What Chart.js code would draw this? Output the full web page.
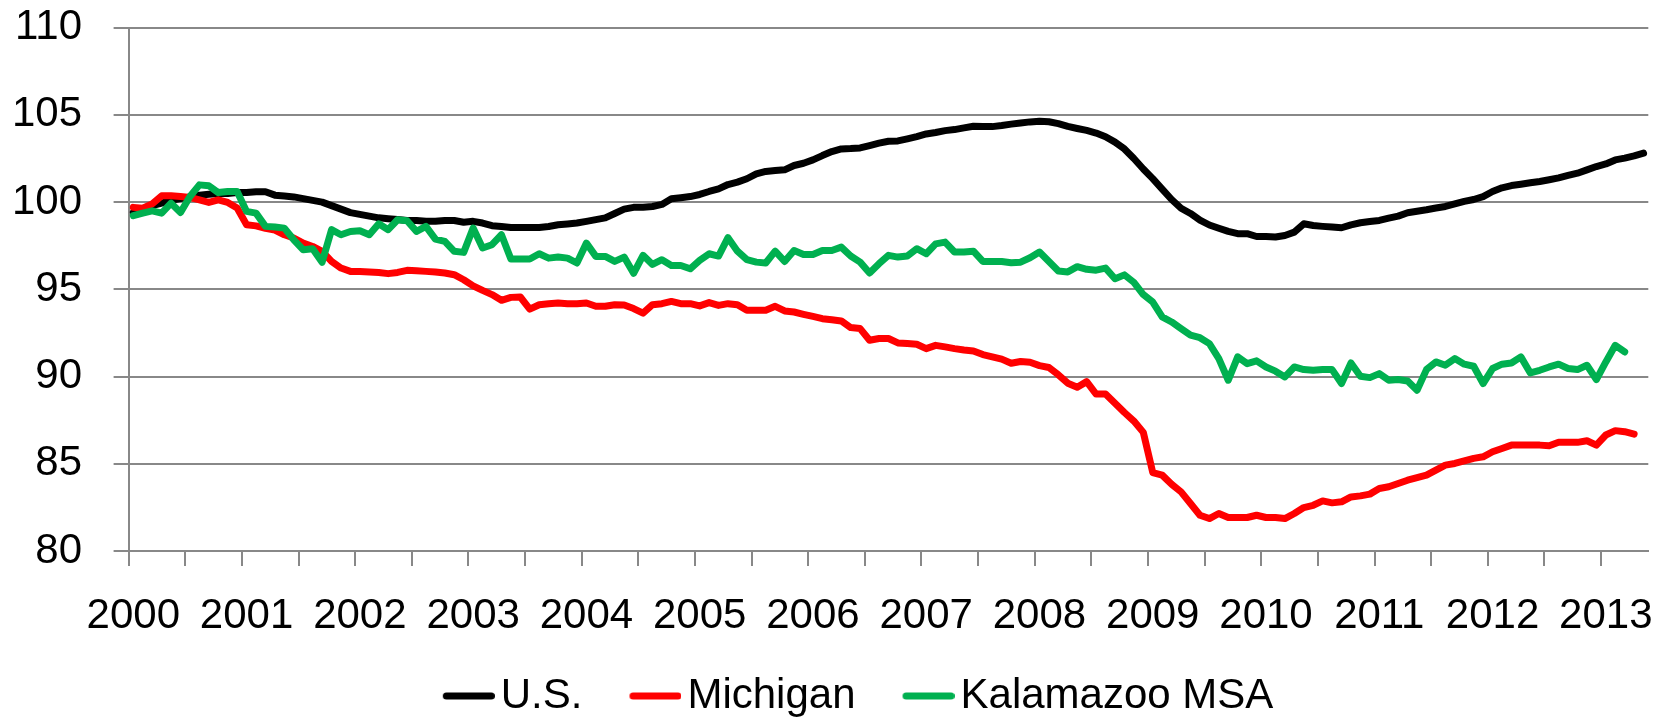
<!DOCTYPE html>
<html>
<head>
<meta charset="utf-8">
<script src="https://cdn.jsdelivr.net/npm/chart.js@4.4.1/dist/chart.umd.min.js"></script>
<style>
html,body{margin:0;padding:0;background:#ffffff;}
#wrap{position:relative;width:1673px;height:717px;}
</style>
</head>
<body>
<div id="wrap"><canvas id="c" width="1673" height="717"></canvas></div>
<script>
// Tick labels (one per year) and monthly categories Jan 2000 .. May 2013
const tickYears = ['2000','2001','2002','2003','2004','2005','2006','2007','2008','2009','2010','2011','2012','2013'];
const monthsInLastYear = 5;
const categories = [];
tickYears.forEach((y, k) => {
  const n = (k === tickYears.length - 1) ? monthsInLastYear : 12;
  for (let m = 1; m <= n; m++) categories.push(y + '-' + String(m).padStart(2, '0'));
});

const seriesNames = ['U.S.', 'Michigan', 'Kalamazoo MSA'];

const usValues = [
  99.4,99.6,99.8,99.95,100.1,100.2,100.3,100.4,100.45,100.5,100.5,100.55,
  100.55,100.6,100.6,100.4,100.35,100.3,100.2,100.1,100.0,99.8,99.6,99.4,
  99.3,99.2,99.1,99.05,99.0,98.95,98.95,98.9,98.9,98.95,98.95,98.85,
  98.9,98.8,98.65,98.6,98.55,98.55,98.55,98.55,98.6,98.7,98.75,98.8,
  98.9,99.0,99.1,99.35,99.6,99.7,99.71,99.75,99.87,100.19,100.25,100.32,
  100.44,100.61,100.76,101.01,101.15,101.34,101.62,101.76,101.81,101.85,102.1,102.23,
  102.42,102.67,102.9,103.05,103.07,103.11,103.24,103.38,103.49,103.51,103.63,103.76,
  103.91,103.99,104.1,104.16,104.26,104.35,104.33,104.33,104.39,104.47,104.54,104.6,
  104.64,104.61,104.5,104.34,104.22,104.11,103.96,103.75,103.44,103.05,102.5,101.9,
  101.35,100.75,100.15,99.65,99.35,98.97,98.69,98.5,98.32,98.19,98.19,98.03,
  98.03,98.0,98.09,98.28,98.76,98.66,98.61,98.57,98.53,98.7,98.82,98.89,
  98.95,99.08,99.2,99.39,99.48,99.56,99.66,99.75,99.9,100.04,100.15,100.32,
  100.61,100.82,100.95,101.03,101.11,101.18,101.28,101.39,101.53,101.66,101.85,102.04,
  102.19,102.42,102.52,102.65,102.81
];

const michiganValues = [
  99.7,99.65,99.9,100.36,100.36,100.32,100.27,100.13,99.98,100.13,99.98,99.66,
  98.7,98.64,98.5,98.4,98.13,97.94,97.65,97.46,97.18,96.6,96.22,96.03,
  96.03,96.0,95.97,95.9,95.97,96.09,96.07,96.03,96.0,95.94,95.84,95.55,
  95.2,94.94,94.7,94.37,94.54,94.56,93.87,94.12,94.18,94.22,94.18,94.18,
  94.22,94.03,94.03,94.12,94.1,93.9,93.64,94.12,94.18,94.31,94.18,94.18,
  94.05,94.24,94.08,94.18,94.12,93.8,93.8,93.8,94.03,93.76,93.7,93.57,
  93.45,93.32,93.26,93.19,92.81,92.75,92.08,92.18,92.18,91.93,91.89,91.85,
  91.6,91.79,91.7,91.6,91.52,91.47,91.26,91.13,91.0,90.76,90.86,90.82,
  90.63,90.52,90.1,89.62,89.39,89.71,89.0,89.0,88.47,87.94,87.45,86.8,
  84.5,84.35,83.83,83.39,82.72,82.05,81.86,82.15,81.92,81.92,81.92,82.05,
  81.92,81.92,81.86,82.15,82.49,82.62,82.87,82.76,82.82,83.1,83.16,83.26,
  83.58,83.68,83.87,84.06,84.21,84.35,84.64,84.92,85.02,85.17,85.31,85.4,
  85.69,85.88,86.07,86.07,86.07,86.07,86.03,86.23,86.23,86.23,86.32,86.07,
  86.65,86.9,86.84,86.7
];

const kalamazooValues = [
  99.22,99.37,99.5,99.37,99.94,99.41,100.32,100.99,100.94,100.55,100.61,100.61,
  99.47,99.37,98.61,98.57,98.51,97.84,97.27,97.33,96.55,98.42,98.13,98.32,
  98.36,98.13,98.76,98.42,98.99,98.93,98.32,98.61,97.88,97.75,97.18,97.12,
  98.51,97.37,97.56,98.13,96.74,96.74,96.74,97.04,96.79,96.85,96.79,96.51,
  97.65,96.89,96.89,96.6,96.85,95.92,96.95,96.43,96.7,96.37,96.37,96.18,
  96.66,97.04,96.91,97.96,97.19,96.7,96.56,96.51,97.19,96.6,97.23,97.0,
  97.0,97.23,97.23,97.42,96.91,96.56,95.94,96.47,96.95,96.85,96.91,97.33,
  97.04,97.61,97.71,97.14,97.14,97.19,96.6,96.6,96.6,96.53,96.56,96.81,
  97.14,96.6,96.05,96.0,96.3,96.15,96.1,96.22,95.61,95.83,95.4,94.7,
  94.27,93.42,93.13,92.75,92.37,92.23,91.89,91.03,89.79,91.13,90.74,90.9,
  90.55,90.31,89.98,90.55,90.4,90.36,90.4,90.4,89.6,90.78,90.02,89.94,
  90.17,89.79,89.83,89.75,89.22,90.4,90.84,90.65,91.03,90.71,90.59,89.6,
  90.46,90.71,90.78,91.13,90.21,90.36,90.55,90.71,90.46,90.4,90.65,89.83,
  90.84,91.79,91.41
];

const seriesColors = ['#000000', '#FF0000', '#00B050'];
const yMin = 80, yMax = 110, yStep = 5;

const FONT = "'Liberation Sans', Arial, sans-serif";
const GRAY = '#888888';
const LINE_W = 7;

// Legend swatch images: a short thick line placed at the right of a wide legend box,
// so it sits close to its label like the original, with the blank part acting as spacing.
const SWATCH_BOX = 68, SWATCH_LEN = 52;
function makeSwatch(color) {
  const c = document.createElement('canvas');
  const W = SWATCH_BOX + 30, H = 12;
  c.width = W; c.height = H;
  const g = c.getContext('2d');
  g.strokeStyle = color;
  g.lineWidth = LINE_W;
  g.lineCap = 'round';
  g.beginPath();
  g.moveTo(W - SWATCH_LEN + LINE_W / 2, H / 2);
  g.lineTo(W - LINE_W / 2, H / 2);
  g.stroke();
  return c;
}
const swatches = seriesColors.map(makeSwatch);

const legendShift = {
  id: 'legendShift',
  afterLayout(chart) {
    const l = chart.legend;
    if (l) { l.left += 18.4; l.right += 18.4; l.top += 10; l.bottom += 10; }
  }
};

const allValues = [usValues, michiganValues, kalamazooValues];
const datasets = seriesNames.map((name, k) => ({
  label: name,
  data: allValues[k],
  borderColor: seriesColors[k],
  backgroundColor: seriesColors[k],
  borderWidth: LINE_W,
  pointRadius: 0,
  pointHoverRadius: 0,
  tension: 0,
  fill: false,
  borderCapStyle: 'round',
  borderJoinStyle: 'round',
  order: 3 - k
}));

new Chart(document.getElementById('c'), {
  type: 'line',
  data: { labels: categories, datasets },
  plugins: [legendShift],
  options: {
    responsive: false,
    animation: false,
    devicePixelRatio: 1,
    layout: { padding: { left: 0, right: 24.7, top: 0, bottom: 0 } },
    plugins: {
      tooltip: { enabled: false },
      legend: {
        position: 'bottom',
        labels: {
          usePointStyle: true,
          pointStyleWidth: SWATCH_BOX,
          boxHeight: 20,
          padding: 16,
          color: '#000000',
          font: { size: 42, family: FONT },
          sort: (a, b) => a.datasetIndex - b.datasetIndex,
          generateLabels: (chart) => {
            const items = Chart.defaults.plugins.legend.labels.generateLabels(chart);
            items.forEach((it) => { it.pointStyle = swatches[it.datasetIndex]; });
            return items;
          }
        }
      }
    },
    scales: {
      x: {
        type: 'category',
        offset: true,
        afterFit: (s) => { s.height = 98; s.paddingLeft = 0; s.paddingRight = 0; },
        grid: {
          offset: true,
          drawOnChartArea: false,
          drawTicks: true,
          tickLength: 15,
          lineWidth: 2,
          color: (ctx) => (ctx.index % 6 === 0 ? GRAY : 'rgba(0,0,0,0)')
        },
        border: { display: true, color: GRAY, width: 2 },
        ticks: {
          autoSkip: false,
          maxRotation: 0,
          minRotation: 0,
          padding: 25,
          color: '#000000',
          font: { size: 42, family: FONT },
          callback: (v, i) => (i % 12 === 0 ? categories[i].slice(0, 4) : '')
        }
      },
      y: {
        min: yMin,
        max: yMax,
        afterFit: (s) => { s.width = 128.6; s.paddingTop = 27.7; s.paddingBottom = 0; },
        ticks: {
          stepSize: yStep,
          padding: 31.6,
          color: '#000000',
          font: { size: 42, family: FONT }
        },
        grid: { color: GRAY, lineWidth: 2, tickLength: 15 },
        border: { display: true, color: GRAY, width: 2 }
      }
    }
  }
});
</script>
</body>
</html>
